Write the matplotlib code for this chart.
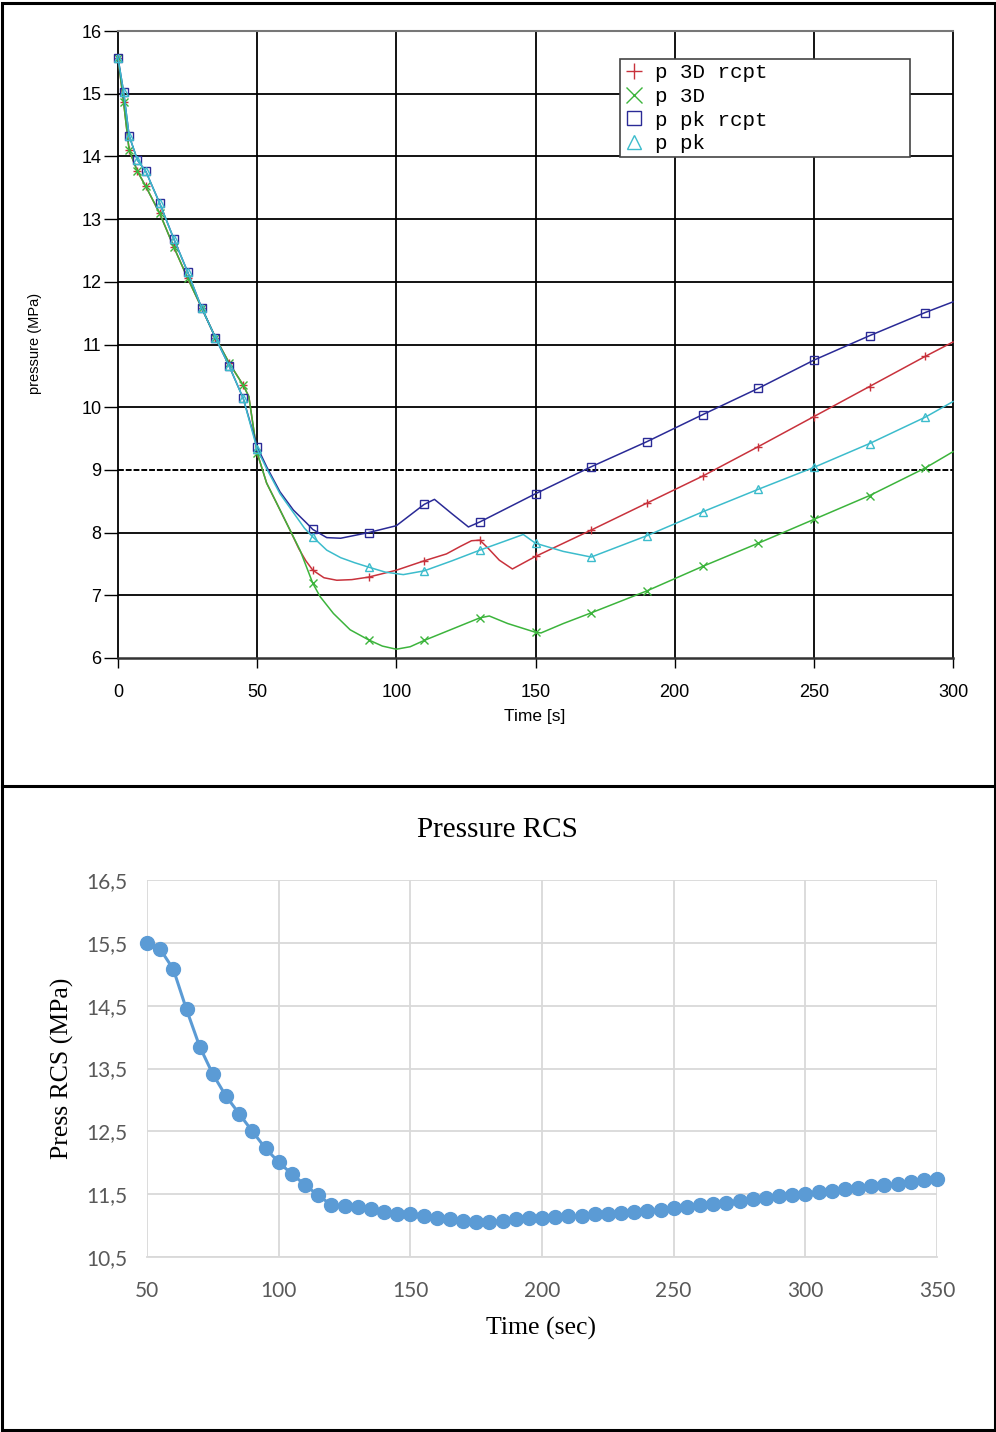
import numpy as np
import matplotlib
matplotlib.use('Agg')
import matplotlib.pyplot as plt
from matplotlib.lines import Line2D
from matplotlib.patches import Rectangle

# ---------------- top chart : four pressure histories ----------------
t_3d_rcpt = [0, 2, 4, 7, 10, 15, 20, 25, 30, 35, 40, 45, 47, 50, 53.4, 57, 61.8, 65, 67.5, 70,
             74, 78.6, 84, 90, 100, 110, 118, 123, 127, 130, 133, 137, 141.7, 150, 170, 190,
             210, 230, 250, 270, 290, 300]
p_3d_rcpt = [15.57, 14.87, 14.10, 13.76, 13.52, 13.09, 12.56, 12.06, 11.59, 11.11, 10.70, 10.35, 10.17,
             9.27, 8.79, 8.47, 8.04, 7.74, 7.55, 7.40, 7.28, 7.24, 7.25, 7.29, 7.40, 7.55, 7.66, 7.78,
             7.87, 7.88, 7.75, 7.56, 7.42, 7.62, 8.04, 8.47, 8.90, 9.37, 9.85, 10.33, 10.81, 11.04]

t_3d = [0, 2, 4, 7, 10, 15, 20, 25, 30, 35, 40, 45, 47, 50, 53.4, 57, 61.8, 65.4, 70, 72.6, 77.4,
        83.4, 90, 95, 100, 105, 110, 120, 130, 133.4, 140, 150, 152, 160, 170, 190, 210, 230, 250,
        270, 290, 300]
p_3d = [15.57, 14.87, 14.10, 13.76, 13.52, 13.09, 12.56, 12.06, 11.59, 11.11, 10.70, 10.35, 10.17,
        9.27, 8.79, 8.47, 8.04, 7.72, 7.19, 6.98, 6.71, 6.45, 6.29, 6.19, 6.14, 6.18, 6.28, 6.46,
        6.64, 6.67, 6.55, 6.41, 6.40, 6.55, 6.72, 7.07, 7.46, 7.83, 8.21, 8.59, 9.03, 9.29]

t_pk_rcpt = [0, 2, 4, 7, 10, 15, 20, 25, 30, 35, 40, 45, 50, 53.4, 58.2, 63, 67.8, 70, 75, 80, 90,
             100, 110, 113.7, 120, 125.9, 130, 150, 170, 190, 210, 230, 250, 270, 290, 300]
p_pk_rcpt = [15.57, 15.03, 14.33, 13.94, 13.76, 13.25, 12.69, 12.16, 11.59, 11.11, 10.65, 10.14, 9.37,
             9.05, 8.65, 8.36, 8.15, 8.05, 7.92, 7.91, 8.00, 8.11, 8.45, 8.53, 8.30, 8.09, 8.17, 8.62,
             9.05, 9.45, 9.88, 10.30, 10.75, 11.14, 11.51, 11.68]

t_pk = [0, 2, 4, 7, 10, 15, 20, 25, 30, 35, 40, 45, 50, 53.4, 58.2, 63, 67, 70, 75, 80, 85, 90, 96,
        102.5, 110, 120, 130, 140, 145.6, 150, 160, 170, 190, 210, 230, 250, 270, 290, 300]
p_pk = [15.57, 15.03, 14.33, 13.94, 13.76, 13.25, 12.69, 12.16, 11.59, 11.11, 10.65, 10.14, 9.33,
        9.02, 8.62, 8.32, 8.07, 7.93, 7.72, 7.60, 7.52, 7.45, 7.37, 7.33, 7.39, 7.55, 7.72, 7.88,
        7.97, 7.83, 7.70, 7.61, 7.95, 8.33, 8.69, 9.04, 9.42, 9.84, 10.09]

# times where the solver printed a symbol
mark_times = [0, 2, 4, 7, 10, 15, 20, 25, 30, 35, 40, 45, 50,
              70, 90, 110, 130, 150, 170, 190, 210, 230, 250, 270, 290]

series = [
    ('p 3D rcpt', t_3d_rcpt, p_3d_rcpt, '#c8323c', '+'),
    ('p 3D', t_3d, p_3d, '#3cb43c', 'x'),
    ('p pk rcpt', t_pk_rcpt, p_pk_rcpt, '#2a2a96', 's'),
    ('p pk', t_pk, p_pk, '#3cbccc', '^'),
]

# ---------------- bottom chart : RCS pressure ----------------
t_rcs = list(range(50, 355, 5))
p_rcs = [15.49, 15.40, 15.08, 14.44, 13.85, 13.41, 13.06, 12.78, 12.50, 12.23, 12.01, 11.82, 11.65,
         11.48, 11.33, 11.31, 11.29, 11.26, 11.22, 11.19, 11.18, 11.15, 11.12, 11.10, 11.08, 11.05,
         11.06, 11.08, 11.11, 11.12, 11.12, 11.13, 11.15, 11.16, 11.18, 11.19, 11.20, 11.22, 11.24,
         11.25, 11.28, 11.29, 11.32, 11.34, 11.36, 11.39, 11.42, 11.44, 11.47, 11.48, 11.51, 11.53,
         11.55, 11.58, 11.60, 11.63, 11.64, 11.66, 11.70, 11.72, 11.74]
rcs_yticks = [10.5, 11.5, 12.5, 13.5, 14.5, 15.5, 16.5]
rcs_ylabels = ['10,5', '11,5', '12,5', '13,5', '14,5', '15,5', '16,5']
rcs_xticks = [50, 100, 150, 200, 250, 300, 350]

W, H = 996, 1432
fig = plt.figure(figsize=(W / 100, H / 100), dpi=100)
sans = ['Liberation Sans', 'DejaVu Sans']

def fx(px):
    return px / W

def fy(py):
    return 1 - py / H

# ---- top axes
ax = fig.add_axes([fx(118), fy(658), fx(953) - fx(118), fy(31) - fy(658)])
for label, t, p, col, mk in series:
    idx = [t.index(m) for m in mark_times if m in t]
    ax.plot(t, p, color=col, lw=1.1, marker=mk, markevery=idx, ms=6,
            mfc='none', mew=1.0, clip_on=False, zorder=3, label=label)

ax.set_xlim(0, 300)
ax.set_ylim(6, 16)
ax.set_xticks(range(0, 301, 50))
ax.set_yticks(range(6, 17))
for v in range(50, 300, 50):
    ax.axvline(v, color='black', lw=1.3, zorder=1)
for v in range(7, 16):
    if v == 9:
        ax.axhline(v, color='black', lw=1.4, ls=(0, (3, 1)), zorder=1)
    else:
        ax.axhline(v, color='black', lw=1.3, zorder=1)
for s in ['left', 'right']:
    ax.spines[s].set_color('black')
    ax.spines[s].set_linewidth(1.3)
ax.spines['bottom'].set_color('#333333')
ax.spines['bottom'].set_linewidth(1.8)
ax.spines['top'].set_color('#777777')
ax.spines['top'].set_linewidth(1.5)
ax.tick_params(axis='y', length=10, width=1.0, pad=2, labelsize=13)
ax.tick_params(axis='x', length=7, width=1.0, pad=12, labelsize=13)
for lab in ax.get_xticklabels() + ax.get_yticklabels():
    lab.set_family(sans)

handles = [Line2D([], [], ls='none', marker=mk, color=col, mfc='none', mew=1.0,
                  ms=12 if mk in '+x' else 10) for _, _, _, col, mk in series]
leg = ax.legend(handles, [s[0] for s in series], loc='upper left',
                bbox_to_anchor=(0.601, 0.799, 0.348, 0.156), mode='expand', borderaxespad=0,
                prop={'family': 'Liberation Mono', 'size': 15}, handlelength=1.0,
                handletextpad=0.5, labelspacing=0.22, borderpad=0.2, fancybox=False,
                framealpha=1, edgecolor='#444444')
leg.get_frame().set_linewidth(1.2)
leg.set_zorder(5)

fig.text(fx(35), fy(343), 'pressure (MPa)', rotation=90, ha='center', va='center',
         fontsize=10.5, family=sans)
fig.text(fx(535), fy(716), 'Time [s]', ha='center', va='center', fontsize=12.5, family=sans)

# ---- bottom axes
bx = fig.add_axes([fx(147), fy(1257), fx(937) - fx(147), fy(880) - fy(1257)])
bx.plot(t_rcs, p_rcs, color='#5b9bd5', lw=2.2, marker='o', ms=10, clip_on=False, zorder=3)
bx.set_xlim(50, 350)
bx.set_ylim(10.5, 16.5)
bx.set_xticks(rcs_xticks)
bx.set_yticks(rcs_yticks)
bx.set_yticklabels(rcs_ylabels)
bx.grid(True, color='#d9d9d9', lw=1.3)
bx.set_axisbelow(True)
for s in ['left', 'right', 'top']:
    bx.spines[s].set_visible(False)
bx.spines['bottom'].set_color('#d9d9d9')
bx.spines['bottom'].set_linewidth(1.3)
bx.tick_params(axis='y', length=0, pad=14, labelsize=15, labelcolor='#595959')
bx.tick_params(axis='x', length=0, pad=17, labelsize=15, labelcolor='#595959')
for lab in bx.get_xticklabels() + bx.get_yticklabels():
    lab.set_family(['Lato', 'DejaVu Sans'])

fig.text(fx(497), fy(830), 'Pressure RCS', ha='center', va='center', fontsize=21,
         family=['Liberation Serif'])
fig.text(fx(62), fy(1068), 'Press RCS (MPa)', rotation=90, ha='center', va='center',
         fontsize=18.5, family=['Liberation Serif'])
fig.text(fx(541), fy(1328), 'Time (sec)', ha='center', va='center', fontsize=18.5,
         family=['Liberation Serif'])

# panel frames
fig.add_artist(Rectangle((fx(2), fy(1430)), fx(995) - fx(2), fy(3) - fy(1430), fill=False,
                         lw=2.2, ec='black', transform=fig.transFigure))
fig.add_artist(Line2D([fx(2), fx(995)], [fy(786), fy(786)], lw=2.2, color='black',
                      transform=fig.transFigure))

fig.savefig('out.png', dpi=100, facecolor='white')
